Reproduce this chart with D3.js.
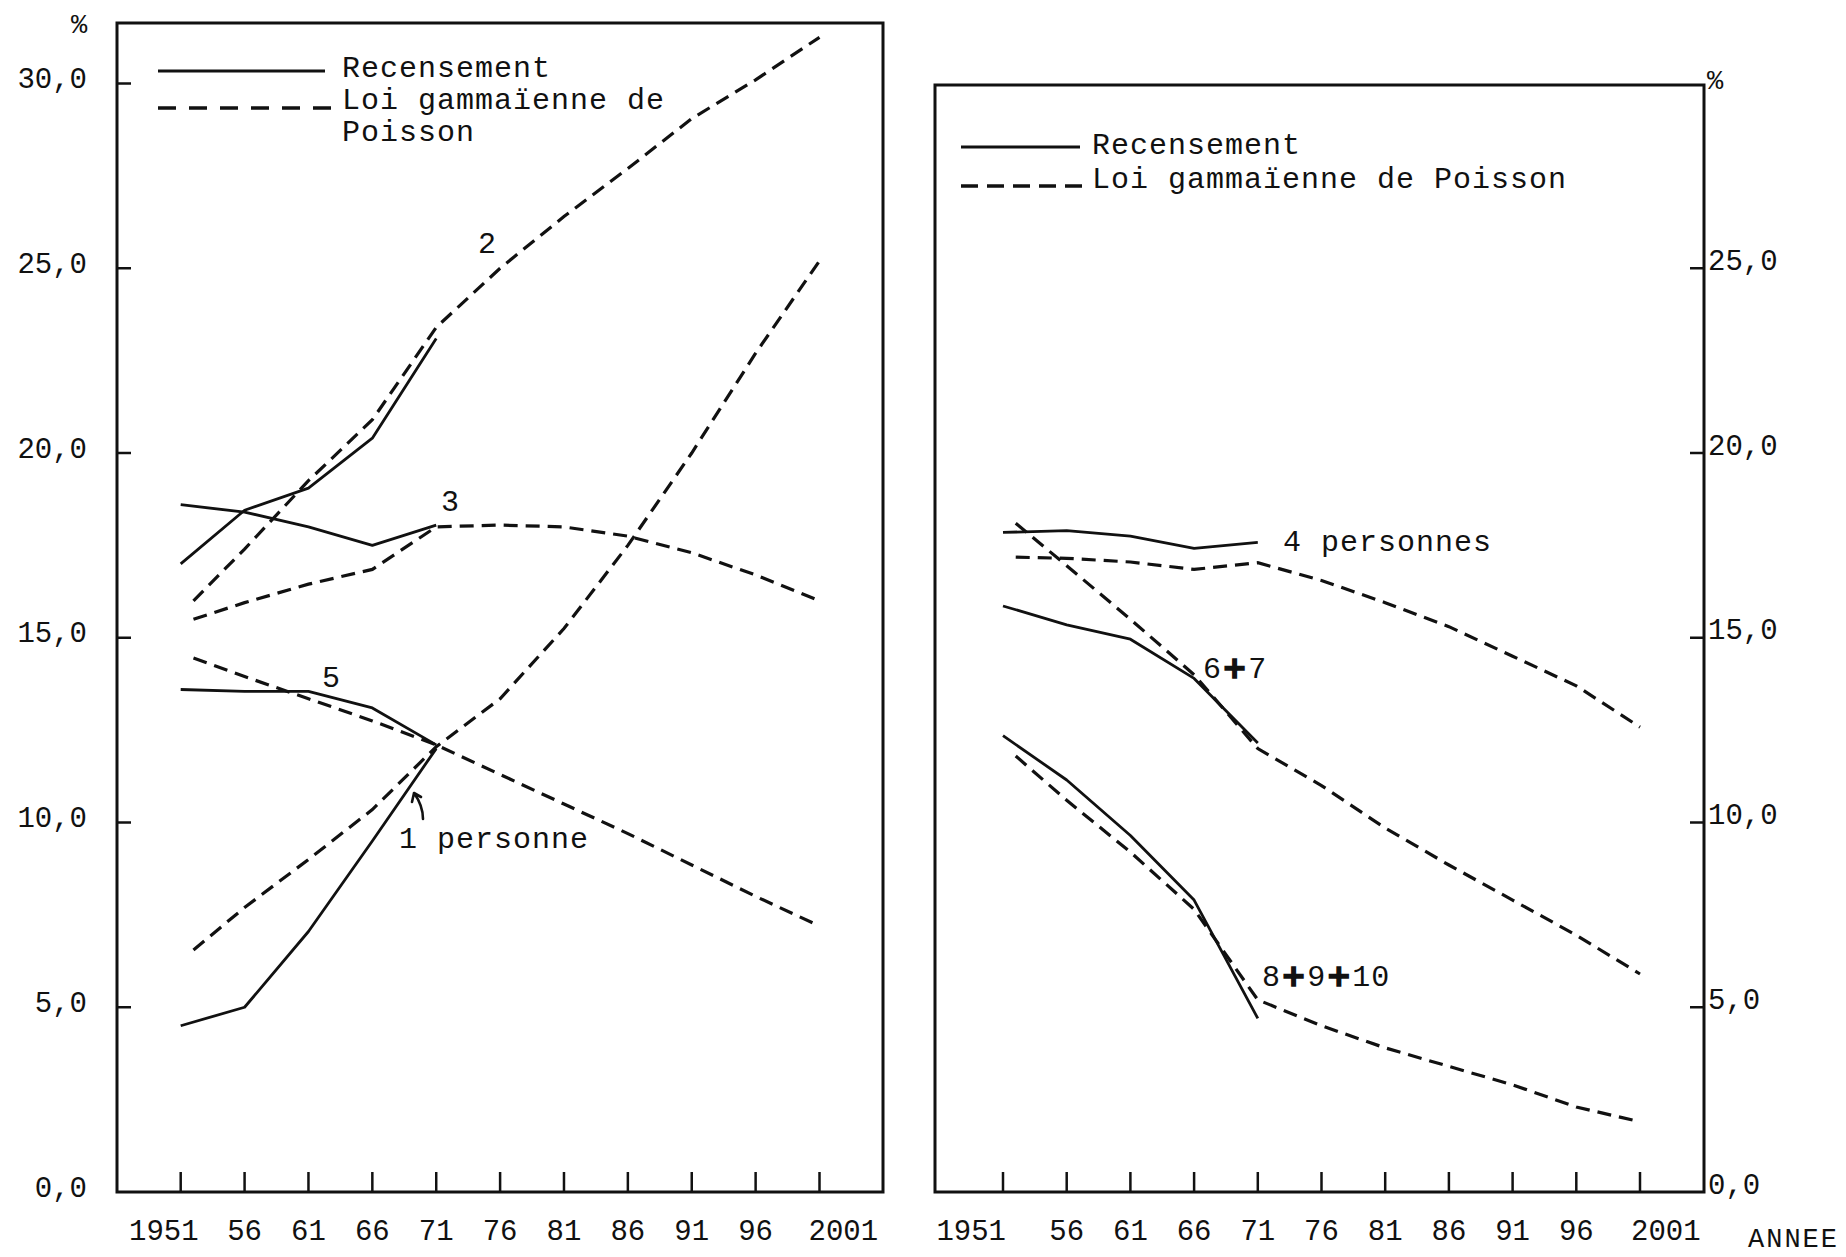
<!DOCTYPE html>
<html>
<head>
<meta charset="utf-8">
<script src="https://cdn.jsdelivr.net/npm/d3@7"></script>
<style>
  body { margin: 0; background: #fff; }
  text { font-family: "Liberation Mono", "DejaVu Sans Mono", monospace; fill: #111; }
</style>
</head>
<body>
<svg id="chart" width="1846" height="1257"></svg>
<script>
// Years
const censusYears = [1951, 1956, 1961, 1966, 1971];
const projYears = [1952, 1956, 1961, 1966, 1971, 1976, 1981, 1986, 1991, 1996, 2001];
const tickYears = [1951, 1956, 1961, 1966, 1971, 1976, 1981, 1986, 1991, 1996, 2001];
const tickLabels = ['1951', '56', '61', '66', '71', '76', '81', '86', '91', '96', '2001'];
const yTicksLeft = [0, 5, 10, 15, 20, 25, 30];
const yTicksRight = [0, 5, 10, 15, 20, 25];

// Left panel : 1, 2, 3 et 5 personnes (%)
const census1 = [4.5, 5.0, 7.05, 9.5, 12.0];
const proj1 = [6.55, 7.7, 9.0, 10.35, 12.05, 13.35, 15.25, 17.5, 20.0, 22.7, 25.2];
const census2 = [17.0, 18.45, 19.05, 20.4, 23.1];
const proj2 = [16.0, 17.4, 19.25, 20.9, 23.4, 25.0, 26.4, 27.7, 29.05, 30.1, 31.25];
const census3 = [18.6, 18.4, 18.0, 17.5, 18.05];
const proj3 = [15.5, 15.95, 16.45, 16.85, 18.0, 18.05, 18.0, 17.75, 17.3, 16.7, 16.0];
const census5 = [13.6, 13.55, 13.55, 13.1, 12.1];
const proj5 = [14.45, 13.95, 13.35, 12.75, 12.1, 11.3, 10.5, 9.7, 8.85, 8.0, 7.2];

// Right panel : 4, 6+7, 8+9+10 personnes (%)
const census4 = [17.85, 17.9, 17.75, 17.42, 17.58];
const proj4 = [17.18, 17.15, 17.05, 16.85, 17.03, 16.55, 15.95, 15.3, 14.5, 13.7, 12.58];
const census67 = [15.86, 15.35, 14.96, 13.9, 12.15];
const proj67 = [18.1, 16.95, 15.5, 14.0, 12.0, 11.0, 9.85, 8.85, 7.9, 6.95, 5.9];
const census810 = [12.35, 11.15, 9.65, 7.9, 4.7];
const proj810 = [11.8, 10.6, 9.2, 7.65, 5.2, 4.5, 3.9, 3.4, 2.9, 2.3, 1.9];

const svg = d3.select('#chart');

const y = d3.scaleLinear().domain([0, 30]).range([1192, 1192 - 30 * 36.95]);

const panels = [
  {
    frame: {x0: 117, x1: 883, y0: 23, y1: 1192},
    x: d3.scaleLinear().domain([1951, 2001]).range([180.7, 819.5]),
    side: 'left', yTicks: yTicksLeft, firstDx: 18, lastDx: -11,
    series: [[census1, proj1], [census2, proj2], [census3, proj3], [census5, proj5]],
    legend: {x0: 158, x1: 325, xt: 342, y1: 71, y2: 108, t1: 77, t2: 109,
             texts: ['Loi gammaïenne de', 'Poisson'], dash: '18,13'}
  },
  {
    frame: {x0: 935, x1: 1704, y0: 85, y1: 1192},
    x: d3.scaleLinear().domain([1951, 2001]).range([1003, 1640]),
    side: 'right', yTicks: yTicksRight, firstDx: 3, lastDx: -9,
    series: [[census4, proj4], [census67, proj67], [census810, proj810]],
    legend: {x0: 961, x1: 1080, xt: 1092, y1: 147, y2: 186, t1: 154, t2: 188,
             texts: ['Loi gammaïenne de Poisson'], dash: '17,9'}
  }
];

panels.forEach(p => {
  const g = svg.append('g');
  const f = p.frame;

  // frame
  g.append('rect')
    .attr('x', f.x0).attr('y', f.y0)
    .attr('width', f.x1 - f.x0).attr('height', f.y1 - f.y0)
    .attr('fill', 'none').attr('stroke', '#111').attr('stroke-width', 3);

  // x ticks (inside, above the axis line)
  g.selectAll('.xt').data(tickYears).enter().append('line')
    .attr('x1', d => p.x(d)).attr('x2', d => p.x(d))
    .attr('y1', f.y1).attr('y2', f.y1 - 20)
    .attr('stroke', '#111').attr('stroke-width', 2.5);

  g.selectAll('.xl').data(tickYears).enter().append('text')
    .attr('x', (d, i) => p.x(d) + (i === 0 ? p.firstDx : i === tickYears.length - 1 ? p.lastDx : 0))
    .attr('y', 1240)
    .attr('text-anchor', (d, i) => i === 0 ? 'end' : i === tickYears.length - 1 ? 'start' : 'middle')
    .style('font-size', '29px')
    .text((d, i) => tickLabels[i]);

  // y ticks (inward) and labels
  const axisX = p.side === 'left' ? f.x0 : f.x1;
  const dir = p.side === 'left' ? 1 : -1;
  g.selectAll('.yt').data(p.yTicks.filter(d => d > 0)).enter().append('line')
    .attr('x1', axisX).attr('x2', axisX + dir * 14)
    .attr('y1', d => y(d)).attr('y2', d => y(d))
    .attr('stroke', '#111').attr('stroke-width', 2.5);

  g.selectAll('.yl').data(p.yTicks).enter().append('text')
    .attr('x', p.side === 'left' ? 87 : f.x1 + 4)
    .attr('y', d => y(d) + (p.side === 'left' ? -3 : -6))
    .attr('dominant-baseline', 'central')
    .attr('text-anchor', p.side === 'left' ? 'end' : 'start')
    .style('font-size', '29px')
    .text(d => d3.format('.1f')(d).replace('.', ','));

  g.append('text')
    .attr('x', p.side === 'left' ? 79 : f.x1 + 3)
    .attr('y', p.side === 'left' ? 33 : 89)
    .attr('text-anchor', p.side === 'left' ? 'middle' : 'start')
    .style('font-size', '27px')
    .text('%');

  // series
  const lineC = d3.line().x((d, i) => p.x(censusYears[i])).y(d => y(d));
  const lineP = d3.line().x((d, i) => p.x(projYears[i])).y(d => y(d));
  p.series.forEach(([c, pr]) => {
    g.append('path').attr('d', lineP(pr))
      .attr('fill', 'none').attr('stroke', '#111').attr('stroke-width', 3.2)
      .attr('stroke-dasharray', '14,8');
    g.append('path').attr('d', lineC(c))
      .attr('fill', 'none').attr('stroke', '#111').attr('stroke-width', 2.8)
      .attr('stroke-linejoin', 'round');
  });

  // legend
  const L = p.legend;
  g.append('line').attr('x1', L.x0).attr('x2', L.x1).attr('y1', L.y1).attr('y2', L.y1)
    .attr('stroke', '#111').attr('stroke-width', 3.2);
  g.append('line').attr('x1', L.x0).attr('x2', L.x1 + 6).attr('y1', L.y2).attr('y2', L.y2)
    .attr('stroke', '#111').attr('stroke-width', 3.5).attr('stroke-dasharray', L.dash);
  g.append('text').attr('x', L.xt).attr('y', L.t1)
    .style('font-size', '30px').style('letter-spacing', '1px').text('Recensement');
  L.texts.forEach((t, i) => {
    g.append('text').attr('x', L.xt).attr('y', L.t2 + i * 32)
      .style('font-size', '30px').style('letter-spacing', '1px').text(t);
  });
});

// curve labels
const labels = [
  {x: 478, y: 253, t: ['2']},
  {x: 441, y: 511, t: ['3']},
  {x: 322, y: 687, t: ['5']},
  {x: 399, y: 848, t: ['1 personne']},
  {x: 1283, y: 551, t: ['4 personnes']},
  {x: 1203, y: 678, t: ['6', '+', '7']},
  {x: 1262, y: 986, t: ['8', '+', '9', '+', '10']}
];
labels.forEach(l => {
  const txt = svg.append('text').attr('x', l.x).attr('y', l.y)
    .style('font-size', '30px').style('letter-spacing', '1px');
  l.t.forEach(s => {
    const ts = txt.append('tspan').text(s);
    if (s === '+') ts.style('font-weight', 'bold').style('font-family', 'DejaVu Sans')
      .attr('stroke', '#111').attr('stroke-width', 1.5);
  });
});

// arrow pointing to the 1-person census curve
svg.append('path')
  .attr('d', 'M423,819 C423,808 419,800 414,793 M414,793 L412,802 M414,793 L421,797')
  .attr('fill', 'none').attr('stroke', '#111').attr('stroke-width', 2.6)
  .attr('stroke-linecap', 'round');

// axis title
svg.append('text').attr('x', 1748).attr('y', 1247)
  .style('font-size', '27px').style('letter-spacing', '2px').text('ANNEE');
</script>
</body>
</html>
